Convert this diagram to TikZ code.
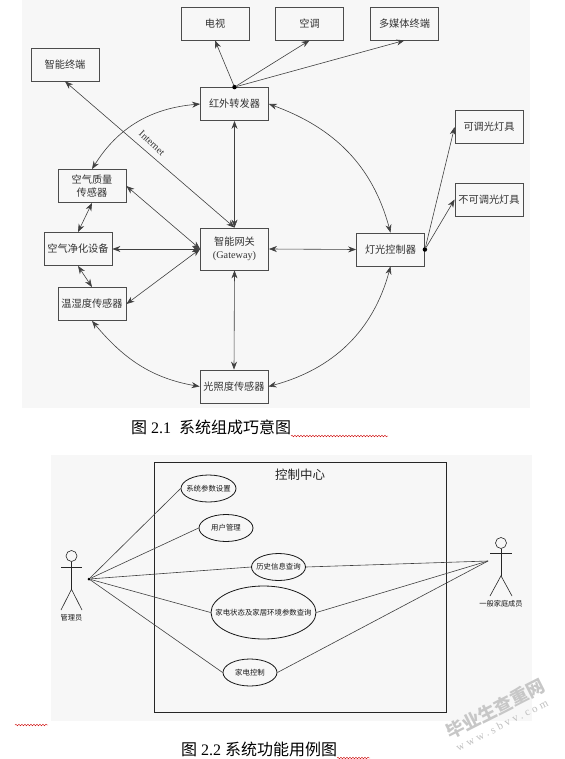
\documentclass[tikz,border=0pt]{standalone}
\usepackage{fontspec}
\setmainfont{Liberation Serif}
\newfontfamily\cjk{Noto Sans CJK SC}
\usetikzlibrary{arrows.meta,decorations.pathmorphing,shapes.geometric}

\begin{document}
\begin{tikzpicture}[
    x=1pt, y=-1pt,
    panel/.style={fill=black!3, draw=none, inner sep=0pt},
    unit/.style={rectangle, draw=black!70, line width=0.8pt, minimum width=68pt, minimum height=33pt, inner sep=0pt, align=center, text=black!80, font=\cjk\fontsize{10.2}{13.5}\selectfont},
    usecase/.style={ellipse, draw=black!90, line width=0.8pt, inner ysep=0pt, inner xsep=-22pt, text=black!90, font=\cjk\fontsize{7.4}{9}\selectfont},
    arrow/.style={-{Stealth[length=8pt,width=6pt]}, draw=black!75, line width=0.6pt},
    both/.style={{Stealth[length=8pt,width=6pt]}-{Stealth[length=8pt,width=6pt]}, draw=black!75, line width=0.6pt},
    assoc/.style={draw=black!75, line width=0.6pt},
    dot/.style={circle, fill=black, inner sep=0pt, minimum size=4.5pt},
    person/.style={draw=black!85, line width=0.6pt},
    wavy/.style={draw=red!80!black, thin, decorate, decoration={snake, amplitude=0.8pt, segment length=3pt}},
    caption/.style={text=black, inner sep=0pt, font=\fontsize{16}{18}\selectfont}
]
    \useasboundingbox (0,0) rectangle (564,759);

    % Gray scanned panels
    \node[panel, minimum width=508pt, minimum height=408pt] (panela) at (276,204) {};
    \node[panel, minimum width=481pt, minimum height=266pt] (panelb) at (291.5,588) {};

    % Devices
    \node[unit] (tv) at (215,23.5) {电视};
    \node[unit] (aircon) at (309.5,23.5) {空调};
    \node[unit] (media) at (404.5,23.5) {多媒体终端};
    \node[unit] (terminal) at (65,64.5) {智能终端};
    \node[unit] (ir) at (234.5,104) {红外转发器};
    \node[unit] (quality) at (92,186) {空气质量\\传感器};
    \node[unit, minimum height=42pt] (gateway) at (234.5,249) {智能网关\\{\rmfamily (Gateway)}};
    \node[unit] (purifier) at (78,249) {空气净化设备};
    \node[unit] (climate) at (92,304) {温湿度传感器};
    \node[unit] (lux) at (234,386.5) {光照度传感器};
    \node[unit] (lamp) at (390.5,249.5) {灯光控制器};
    \node[unit] (dimmable) at (489,127) {可调光灯具};
    \node[unit] (fixed) at (489,199.5) {不可调光灯具};

    % Branch points
    \node[dot] (irdot) at (ir.north) {};
    \node[dot] (lampdot) at (lamp.east) {};

    % Edges from infrared unit
    \draw[arrow] (irdot) -- (tv.south);
    \draw[arrow] (irdot) -- (aircon.south);
    \draw[arrow] (irdot) -- (media.south);

    % Edges from lamp controller
    \draw[arrow] (lampdot) -- (dimmable.west);
    \draw[arrow] (lampdot) -- (fixed.west);

    % Edges to gateway
    \draw[both] (terminal.south) -- (gateway.north);
    \node[rotate=-43, inner sep=0pt, font=\fontsize{10}{12}\selectfont, text=black!80] (internet) at (152,143) {Internet};
    \draw[both] (ir.south) -- (gateway.north);
    \draw[both] (quality.east) -- (gateway.west);
    \draw[both] (purifier.east) -- (gateway.west);
    \draw[both] (climate.east) -- (gateway.west);
    \draw[both] (gateway.east) -- (lamp.west);
    \draw[both] (gateway.south) -- (lux.north);

    % Edges between sensors
    \draw[both] (quality.south) -- (purifier.north);
    \draw[both] (purifier.south) -- (climate.north);

    % Outer ring
    \draw[both] (ir.west) to[out=185, in=58] (quality.north);
    \draw[both] (ir.east) to[out=-20, in=105] (lamp.north);
    \draw[both] (climate.south) to[out=-50, in=170] (lux.west);
    \draw[both] (lux.east) to[out=15, in=-105] (lamp.south);

    % Figure 2.1 caption
    \node[caption, anchor=west] (captiona) at (131,427) {{\cjk 图} 2.1\ \ {\cjk 系统组成巧意图}};
    \coordinate (wavea) at (291,436);
    \coordinate (waveb) at (388,436);
    \draw[wavy] (wavea) -- (waveb);

    % Control centre
    \node[rectangle, draw=black!85, line width=0.8pt, minimum width=292pt, minimum height=250pt, inner sep=0pt] (centre) at (300,587.5) {};
    \node[text=black!85, inner sep=0pt, font=\cjk\fontsize{12.5}{14}\selectfont] (title) at (300,474.5) {控制中心};

    % Use cases
    \node[usecase, minimum width=55pt, minimum height=27pt] (params) at (208.5,488.5) {系统参数设置};
    \node[usecase, minimum width=54pt, minimum height=27pt] (users) at (226,528) {用户管理};
    \node[usecase, minimum width=54pt, minimum height=27pt] (history) at (278.5,567) {历史信息查询};
    \node[usecase, minimum width=105pt, minimum height=53pt] (status) at (263.5,612.5) {家电状态及家居环境参数查询};
    \node[usecase, minimum width=54pt, minimum height=27pt] (control) at (250,672.5) {家电控制};

    % Administrator
    \node[circle, person, minimum size=11pt, inner sep=0pt] (adminhead) at (71.5,556) {};
    \draw[person] (adminhead.south) -- ++(0,27.5) coordinate (adminhip);
    \draw[person] (61,567) -- (82,567);
    \draw[person] (61,610) -- (adminhip) -- (82,610);
    \node[inner sep=0pt, text=black!90, font=\cjk\fontsize{7.2}{9}\selectfont] (admin) at (71.5,618) {管理员};
    \node[dot, minimum size=3pt] (adminhand) at (89,579) {};

    % Family member
    \node[circle, person, minimum size=11pt, inner sep=0pt] (memberhead) at (501,543) {};
    \draw[person] (memberhead.south) -- ++(0,27) coordinate (memberhip);
    \draw[person] (490,553.5) -- (512,553.5);
    \draw[person] (490,596) -- (memberhip) -- (512,596);
    \node[inner sep=0pt, text=black!90, font=\cjk\fontsize{7.2}{9}\selectfont] (member) at (501,604) {一般家庭成员};
    \coordinate (memberhand) at (488,561);

    % Associations
    \draw[assoc] (adminhand) -- (params.west);
    \draw[assoc] (adminhand) -- (users.west);
    \draw[assoc] (adminhand) -- (history.west);
    \draw[assoc] (adminhand) -- (status.west);
    \draw[assoc] (adminhand) -- (control.west);
    \draw[assoc] (memberhand) -- (history.east);
    \draw[assoc] (memberhand) -- (status.east);
    \draw[assoc] (memberhand) -- (control.east);

    % Figure 2.2 caption
    \node[caption, anchor=west] (captionb) at (181,749) {{\cjk 图} 2.2 {\cjk 系统功能用例图}};
    \coordinate (wavec) at (337,758);
    \coordinate (waved) at (370,758);
    \draw[wavy] (wavec) -- (waved);
    \coordinate (wavee) at (15,725);
    \coordinate (wavef) at (48,725);
    \draw[wavy] (wavee) -- (wavef);

    % Watermark
    \node[rotate=27, text=black!22, inner sep=0pt, font=\cjk\bfseries\fontsize{18}{20}\selectfont] (markcn) at (495,709) {毕业生查重网};
    \node[rotate=27, text=black!25, inner sep=0pt, font=\fontsize{11}{12}\selectfont\addfontfeature{LetterSpace=28}] (markurl) at (502,725) {www.sbvv.com};

\end{tikzpicture}
\end{document}
